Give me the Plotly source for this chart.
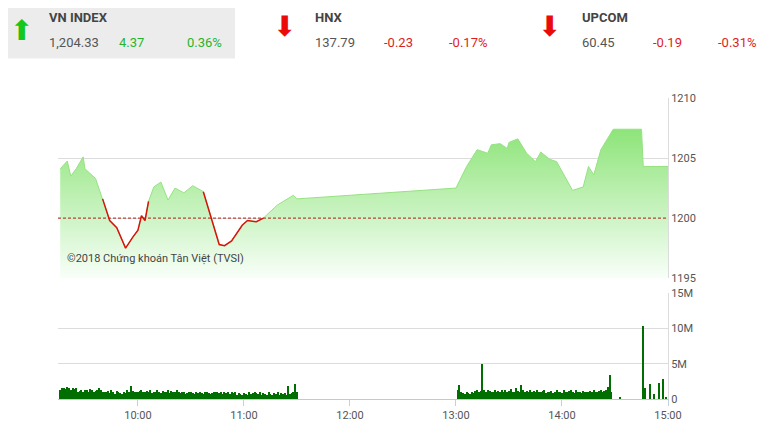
import plotly.graph_objs as go
from plotly import subplots

day = '2018-06-01 '
ref_level = 1200

price_times = ['09:16', '09:20', '09:22', '09:25', '09:29', '09:30', '09:36', '09:40', '09:44', '09:48',
               '09:53', '09:57', '10:00', '10:02', '10:04', '10:06', '10:09', '10:13', '10:17', '10:21',
               '10:26', '10:31', '10:37', '10:42', '10:46', '10:49', '10:53', '10:59', '11:02', '11:07',
               '11:11', '11:19', '11:28', '11:30', '13:00', '13:06', '13:12', '13:18', '13:20', '13:25',
               '13:29', '13:30', '13:35', '13:40', '13:45', '13:48', '13:53', '13:57', '14:01', '14:06',
               '14:12', '14:15', '14:18', '14:22', '14:29', '14:45', '14:46', '15:00']
price_values = [1204.1, 1204.75, 1203.5, 1204.1, 1205.1, 1204.1, 1203.3, 1201.6, 1199.8, 1199.2,
                1197.5, 1198.4, 1199.0, 1200.2, 1199.8, 1201.4, 1202.6, 1203.0, 1201.5, 1202.5,
                1202.1, 1202.7, 1202.2, 1199.8, 1197.8, 1197.7, 1198.1, 1199.4, 1199.8, 1199.7,
                1200.0, 1201.1, 1201.9, 1201.6, 1202.5, 1204.3, 1205.7, 1205.4, 1206.1, 1206.2,
                1205.8, 1206.3, 1206.6, 1205.4, 1204.7, 1205.5, 1204.9, 1204.7, 1203.6, 1202.3,
                1202.6, 1204.3, 1203.6, 1205.7, 1207.4, 1207.4, 1204.3, 1204.3]

vol_morning = [1.2, 1.5, 1.6, 1.4, 1.7, 1.5, 1.3, 1.6, 1.4, 1.6, 1.0, 1.1, 1.3, 0.9, 1.2, 1.2, 1.0, 1.4, 1.3, 0.9,
               1.1, 1.2, 1.5, 1.3, 1.0, 1.0, 0.9, 1.1, 0.8, 1.2, 0.9, 0.7, 1.1, 1.0, 0.8, 0.7, 0.9, 0.8, 1.3, 1.0,
               1.8, 1.1, 0.9, 1.0, 1.0, 1.1, 1.3, 0.9, 1.0, 1.1, 1.0, 1.3, 0.8, 1.0, 1.0, 1.2, 0.9, 0.8, 1.1, 0.9,
               1.0, 1.3, 0.8, 1.1, 1.0, 0.9, 1.2, 1.0, 0.8, 1.0, 0.9, 0.7, 0.8, 1.0, 0.9, 0.8, 0.7, 0.9, 0.8, 1.0,
               0.8, 0.7, 0.9, 0.9, 0.8, 0.7, 0.8, 0.9, 1.0, 0.9, 0.8, 0.9, 0.7, 0.9, 0.8, 0.9, 0.7, 0.9, 0.8, 0.9,
               0.6, 0.8, 0.7, 0.6, 0.8, 0.7, 0.6, 0.9, 0.7, 0.8, 1.0, 0.8, 0.7, 0.9, 0.6, 0.8, 0.7, 0.6, 0.9, 0.7,
               0.6, 0.8, 0.7, 0.9, 0.6, 0.8, 0.7, 0.8, 0.6, 1.8, 0.7, 0.8, 0.9, 2.1, 0.9]
vol_afternoon = [1.2, 1.9, 0.9, 0.8, 0.7, 0.9, 0.8, 0.7, 0.9, 0.8, 1.1, 1.2, 1.0, 1.1, 4.9, 1.2, 1.0, 1.3, 1.1, 0.9,
                 1.0, 1.2, 0.9, 1.1, 1.0, 1.3, 0.9, 1.2, 1.0, 1.1, 1.4, 0.9, 1.0, 1.5, 1.1, 1.0, 1.9, 1.2, 1.0, 1.1,
                 0.9, 1.2, 1.0, 1.1, 0.9, 1.3, 1.0, 0.9, 1.1, 1.2, 0.8, 1.0, 0.9, 1.1, 0.8, 1.0, 1.3, 0.9, 1.0, 0.8,
                 1.2, 1.0, 0.9, 1.1, 1.3, 1.0, 0.8, 1.2, 0.9, 1.0, 0.8, 1.1, 0.9, 1.0, 1.0, 1.1, 0.9, 1.2, 1.0, 0.9,
                 1.1, 1.2, 1.0, 1.1, 1.3, 1.7, 3.4, 1.0]
vol_late_times = ['14:33', '14:46', '14:47', '14:50', '14:52', '14:55', '14:57', '14:59']
vol_late_values = [0.2, 10.3, 1.5, 2.1, 0.7, 2.2, 2.8, 0.2]


def hm(total):
    return '%02d:%02d' % (total // 60, total % 60)


vol_times = [hm(9 * 60 + 16 + i) for i in range(len(vol_morning))] + \
            [hm(13 * 60 + 1 + i) for i in range(len(vol_afternoon))] + vol_late_times
vol_values = vol_morning + vol_afternoon + vol_late_values

px = [day + t for t in price_times]
below = [v < ref_level for v in price_values]
red_y = [v if (below[i] or (i > 0 and below[i - 1]) or (i + 1 < len(below) and below[i + 1])) else None
         for i, v in enumerate(price_values)]

fig = subplots.make_subplots(rows=2, cols=1, shared_xaxes=True, vertical_spacing=0.05, row_heights=[0.63, 0.37])

fig.add_trace(go.Scatter(
    x=px, y=price_values, mode='lines', line=dict(color='rgb(150,225,130)', width=1),
    fill='tozeroy',
    fillgradient=dict(type='vertical', start=1195, stop=1207.5,
                      colorscale=[[0, 'rgba(250,255,250,1)'], [1, 'rgb(140,228,120)']]),
    showlegend=False, hoverinfo='skip'), 1, 1)
fig.add_trace(go.Scatter(
    x=[day + '09:14:45', day + '15:00'], y=[ref_level, ref_level], mode='lines',
    line=dict(color='rgb(170,30,20)', width=1, dash='3px,2px'), showlegend=False), 1, 1)
fig.add_trace(go.Scatter(
    x=px, y=red_y, mode='lines', line=dict(color='rgb(215,20,10)', width=1.5),
    connectgaps=False, showlegend=False), 1, 1)
fig.add_trace(go.Bar(
    x=[day + t for t in vol_times], y=[v * 1e6 for v in vol_values],
    marker=dict(color='rgb(0,110,0)', line=dict(width=0)), width=36000, showlegend=False), 2, 1)

xr = [day + '09:14:45', day + '15:00']
fig.update_xaxes(range=xr, type='date', showgrid=False, zeroline=False)
fig.update_xaxes(row=1, col=1, showticklabels=False, showline=False)
fig.update_xaxes(row=2, col=1, dtick=3600000, tick0=day + '10:00', tickformat='%H:%M',
                 ticks='outside', ticklen=6, tickcolor='rgb(190,210,230)',
                 showline=True, linecolor='rgb(200,200,200)',
                 tickfont=dict(family='Roboto', size=11, color='#555'))
fig.update_yaxes(row=1, col=1, side='right', range=[1195, 1210], dtick=5, gridcolor='rgb(220,220,220)',
                 zeroline=False, showline=True, linecolor='rgb(220,220,220)',
                 tickfont=dict(family='Roboto', size=11, color='#555'))
fig.update_yaxes(row=2, col=1, side='right', range=[0, 15e6], tickvals=[0, 5e6, 10e6, 15e6],
                 ticktext=['0', '5M', '10M', '15M'], gridcolor='rgb(220,220,220)', zeroline=False,
                 showline=True, linecolor='rgb(220,220,220)',
                 tickfont=dict(family='Roboto', size=11, color='#555'))

fig.add_annotation(text='©2018 Chứng khoán Tân Việt (TVSI)', xref='paper', yref='y', x=0.012, y=1195.9,
                   xanchor='left', yanchor='bottom', showarrow=False,
                   font=dict(family='Roboto', size=11, color='#444'))

# header strip, positions in page pixels (plot area spans x 58..668, y 98..403)
fig.add_shape(type='rect', xref='paper', yref='paper', x0=-58 / 610, x1=177 / 610,
              y0=(403 - 58) / 305, y1=(403 + 8) / 305, fillcolor='rgb(236,236,236)',
              line=dict(width=0), layer='below')
header = [
    ('⬆', 21, 30, 'rgb(20,200,30)', 28, 'DejaVu Sans'),
    ('⬇', 284, 26, 'rgb(235,10,10)', 28, 'DejaVu Sans'),
    ('⬇', 549, 26, 'rgb(235,10,10)', 28, 'DejaVu Sans'),
    ('<b>VN INDEX</b>', 47, 16, '#444', 13, 'Roboto'),
    ('1,204.33', 47, 42, '#555', 13, 'Roboto'),
    ('4.37', 117, 42, 'rgb(40,180,40)', 13, 'Roboto'),
    ('0.36%', 185, 42, 'rgb(40,180,40)', 13, 'Roboto'),
    ('<b>HNX</b>', 313, 16, '#444', 13, 'Roboto'),
    ('137.79', 313, 42, '#555', 13, 'Roboto'),
    ('-0.23', 382, 42, 'rgb(220,30,30)', 13, 'Roboto'),
    ('-0.17%', 447, 42, 'rgb(220,30,30)', 13, 'Roboto'),
    ('<b>UPCOM</b>', 580, 16, '#444', 13, 'Roboto'),
    ('60.45', 580, 42, '#555', 13, 'Roboto'),
    ('-0.19', 651, 42, 'rgb(220,30,30)', 13, 'Roboto'),
    ('-0.31%', 716, 42, 'rgb(220,30,30)', 13, 'Roboto'),
]
for txt, hx, hy, col, size, fam in header:
    fig.add_annotation(text=txt, xref='paper', yref='paper', x=(hx - 58) / 610, y=(403 - hy) / 305,
                       xanchor='left' if fam == 'Roboto' else 'center', yanchor='middle', showarrow=False,
                       font=dict(family=fam, size=size, color=col))

# page body has an 8px margin, so the figure is offset by 8px
fig.update_layout(width=759, height=426, margin=dict(l=50, r=99, t=90, b=31),
                  plot_bgcolor='white', paper_bgcolor='white', bargap=0)
fig.write_html('out.html')
